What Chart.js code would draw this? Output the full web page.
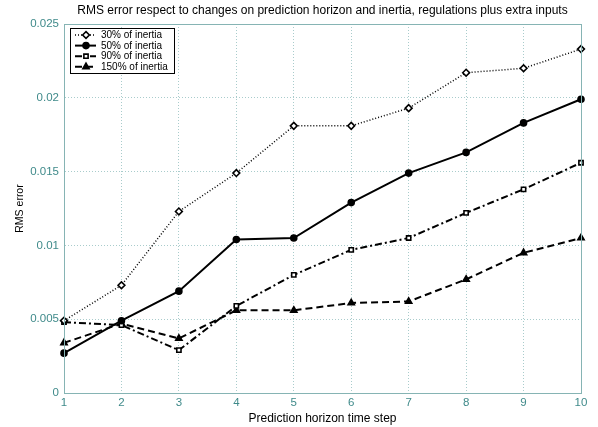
<!DOCTYPE html>
<html>
<head>
<meta charset="utf-8">
<script src="https://cdn.jsdelivr.net/npm/chart.js@4.4.1/dist/chart.umd.min.js"></script>
<style>
html,body{margin:0;padding:0;background:#fff;}
#wrap{width:598px;height:427px;}
</style>
</head>
<body>
<div id="wrap"><canvas id="c" width="598" height="427"></canvas></div>
<script>
const steps = [1, 2, 3, 4, 5, 6, 7, 8, 9, 10];
const inertia30 = [0.0049, 0.0073, 0.0123, 0.0149, 0.0181, 0.0181, 0.0193, 0.0217, 0.0220, 0.0233];
const inertia50 = [0.0027, 0.0049, 0.0069, 0.0104, 0.0105, 0.0129, 0.0149, 0.0163, 0.0183, 0.0199];
const inertia90 = [0.0048, 0.0046, 0.0029, 0.0059, 0.0080, 0.0097, 0.0105, 0.0122, 0.0138, 0.0156];
const inertia150 = [0.0034, 0.0047, 0.0037, 0.0056, 0.0056, 0.0061, 0.0062, 0.0077, 0.0095, 0.0105];
const seriesNames = ['30% of inertia', '50% of inertia', '90% of inertia', '150% of inertia'];
const yTickLabels = ['0', '0.005', '0.01', '0.015', '0.02', '0.025'];
const chartTitle = 'RMS error respect to changes on prediction horizon and inertia, regulations plus extra inputs';

const FONT = "'Liberation Sans', Arial, sans-serif";
const TEAL = '#3f8a8a';
const AXIS = '#86b4b4';
const GRID = '#a9cccc';

const frame = {
  id: 'frame',
  afterDraw(chart) {
    const {ctx, chartArea: a} = chart;
    ctx.save();
    ctx.strokeStyle = AXIS;
    ctx.lineWidth = 1;
    ctx.strokeRect(a.left + 0.5, a.top + 0.5, a.right - a.left, a.bottom - a.top);
    ctx.fillStyle = '#000';
    ctx.font = '12px ' + FONT;
    ctx.textAlign = 'center';
    ctx.textBaseline = 'middle';
    ctx.fillText(chartTitle, (a.left + a.right) / 2, 11);
    ctx.restore();
  }
};

const boxLegend = {
  id: 'boxLegend',
  afterDraw(chart) {
    const {ctx, chartArea: a} = chart;
    const x0 = a.left + 6, y0 = a.top + 4, w = 104, h = 45;
    ctx.save();
    ctx.fillStyle = '#fff';
    ctx.fillRect(x0, y0, w, h);
    ctx.strokeStyle = '#000';
    ctx.lineWidth = 1;
    ctx.strokeRect(x0 + 0.5, y0 + 0.5, w, h);
    chart.data.datasets.forEach((ds, i) => {
      const yy = y0 + 7 + i * 10.6;
      ctx.save();
      ctx.strokeStyle = ds.borderColor;
      ctx.lineWidth = ds.borderWidth;
      ctx.setLineDash(ds.borderDash || []);
      ctx.beginPath();
      ctx.moveTo(x0 + 5, yy);
      ctx.lineTo(x0 + 26, yy);
      ctx.stroke();
      ctx.restore();
      ctx.save();
      ctx.fillStyle = ds.pointBackgroundColor;
      ctx.strokeStyle = ds.pointBorderColor;
      ctx.lineWidth = ds.pointBorderWidth;
      Chart.helpers.drawPoint(ctx, {pointStyle: ds.pointStyle, radius: ds.pointRadius, borderWidth: ds.pointBorderWidth, rotation: 0}, x0 + 16, yy);
      ctx.restore();
      ctx.fillStyle = '#000';
      ctx.font = '10px ' + FONT;
      ctx.textBaseline = 'middle';
      ctx.fillText(ds.label, x0 + 31, yy + 0.5);
    });
    ctx.restore();
  }
};

function ds(label, data, dash, width, style, fill, r) {
  return {
    label, data,
    borderColor: '#000', borderWidth: width, borderDash: dash,
    pointStyle: style, pointRadius: r, pointHoverRadius: r,
    pointBackgroundColor: fill, pointBorderColor: '#000', pointBorderWidth: 1.6,
    tension: 0, fill: false
  };
}

new Chart(document.getElementById('c'), {
  type: 'line',
  data: {
    labels: steps,
    datasets: [
      ds(seriesNames[0], inertia30, [1, 2], 1.5, 'rectRot', '#fff', 3.4),
      ds(seriesNames[1], inertia50, [], 2, 'circle', '#000', 3),
      ds(seriesNames[2], inertia90, [7, 3, 2, 3], 2, 'rect', '#fff', 3),
      ds(seriesNames[3], inertia150, [7, 4], 2, 'triangle', '#000', 3.6)
    ]
  },
  options: {
    responsive: false,
    animation: false,
    layout: {padding: {left: 0, right: 17, top: 24, bottom: 0}},
    plugins: {
      legend: {display: false},
      tooltip: {enabled: false},
      title: {display: false}
    },
    scales: {
      x: {
        type: 'category',
        offset: false,
        grid: {color: GRID, drawTicks: false},
        border: {color: AXIS, dash: [1, 2]},
        ticks: {color: TEAL, font: {family: FONT, size: 11.5}, padding: 3, maxRotation: 0},
        title: {display: true, text: 'Prediction horizon time step', color: '#000', font: {family: FONT, size: 12}, padding: {top: 0, bottom: 1}},
        afterFit(s) { s.height = 34; }
      },
      y: {
        min: 0, max: 0.025,
        grid: {color: GRID, drawTicks: false},
        border: {color: AXIS, dash: [1, 2]},
        ticks: {
          stepSize: 0.005, color: TEAL, font: {family: FONT, size: 11.5}, padding: 5,
          callback: (v, i) => yTickLabels[i]
        },
        title: {display: true, text: 'RMS error', color: '#000', font: {family: FONT, size: 10.5}, padding: {top: 14, bottom: 0}},
        afterFit(s) { s.width = 64; }
      }
    }
  },
  plugins: [frame, boxLegend]
});
</script>
</body>
</html>
